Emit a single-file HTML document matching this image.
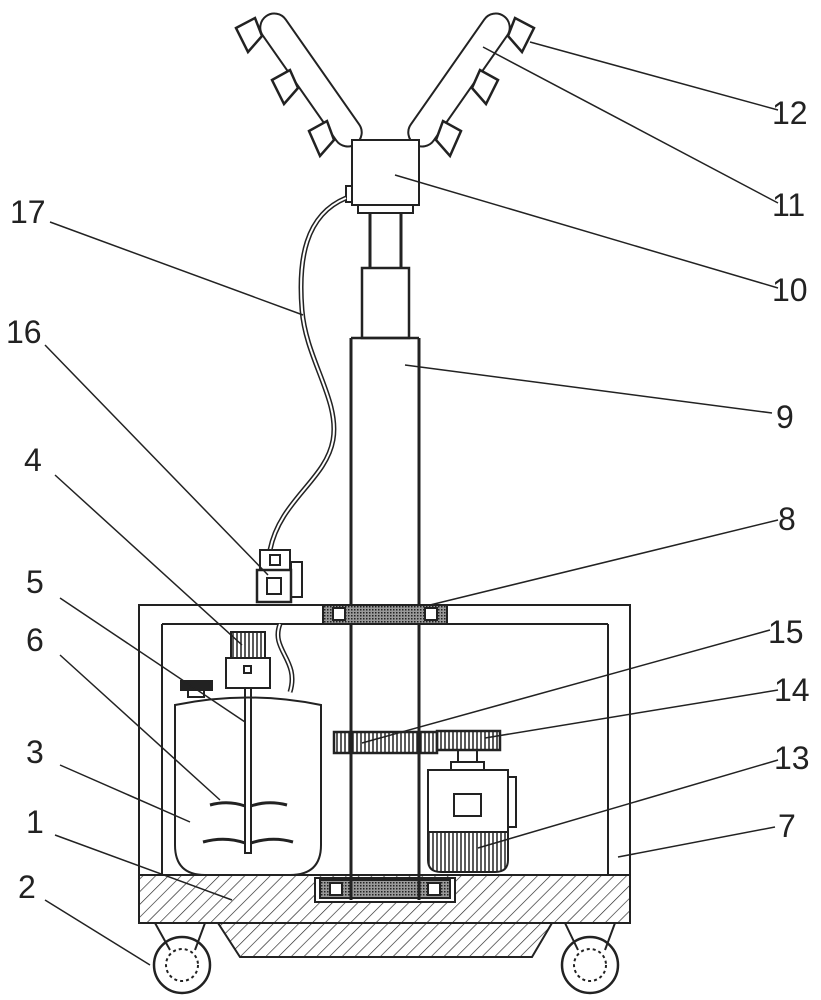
<!DOCTYPE html>
<html><head><meta charset="utf-8"><style>
html,body{margin:0;padding:0;background:#fff;}
svg{display:block;}
text{font-family:"Liberation Sans",sans-serif;font-size:32px;fill:#222;}
</style></head><body>
<svg width="821" height="1000" viewBox="0 0 821 1000" xmlns="http://www.w3.org/2000/svg">
<defs>
<pattern id="h" width="9" height="9" patternUnits="userSpaceOnUse" patternTransform="rotate(45)">
<line x1="0" y1="0" x2="0" y2="9" stroke="#222" stroke-width="1.3"/>
</pattern>
<pattern id="d" width="3" height="3" patternUnits="userSpaceOnUse">
<rect width="3" height="3" fill="#999"/><rect width="1.5" height="1.5" fill="#222"/>
</pattern>
<pattern id="v" width="4" height="10" patternUnits="userSpaceOnUse">
<line x1="1" y1="0" x2="1" y2="10" stroke="#222" stroke-width="1.5"/>
</pattern>
</defs>
<g fill="none" stroke="#222" stroke-width="2">
<!-- arms -->
<g transform="translate(311,80) rotate(-35)"><rect x="-14" y="-78" width="28" height="156" rx="14" fill="#fff"/></g>
<g transform="translate(459,80) rotate(35)"><rect x="-14" y="-78" width="28" height="156" rx="14" fill="#fff"/></g>
<!-- nozzles left -->
<g fill="#fff" stroke-width="2.5">
<polygon points="236,28 255,18 262,36 248,52"/>
<polygon points="272,80 290,70 298,88 284,104"/>
<polygon points="309,131 327,121 334,140 320,156"/>
<polygon points="534,28 515,18 508,36 522,52"/>
<polygon points="498,80 480,70 472,88 486,104"/>
<polygon points="461,131 443,121 436,140 450,156"/>
</g>
<!-- head -->
<rect x="352" y="140" width="67" height="65" fill="#fff"/>
<rect x="346" y="186" width="6" height="16"/>
<rect x="358" y="205" width="55" height="8"/>
<line x1="370" y1="213" x2="370" y2="268" stroke-width="3"/>
<line x1="401" y1="213" x2="401" y2="268" stroke-width="3"/>
<rect x="362" y="268" width="47" height="70" stroke-width="2.5"/>
<line x1="351" y1="338" x2="351" y2="880" stroke-width="3"/>
<line x1="419" y1="338" x2="419" y2="880" stroke-width="3"/>
<line x1="351" y1="338" x2="419" y2="338" stroke-width="2.5"/>
<!-- hose 17 -->
<path d="M346,198 C305,215 298,260 302,310 C306,360 340,400 333,440 C326,480 280,500 270,550" stroke-width="5"/>
<path d="M346,198 C305,215 298,260 302,310 C306,360 340,400 333,440 C326,480 280,500 270,550" stroke="#fff" stroke-width="2"/>
<!-- pump 16 -->
<rect x="260" y="550" width="30" height="20" fill="#fff"/>
<rect x="270" y="555" width="10" height="10"/>
<rect x="257" y="570" width="34" height="32" fill="#fff" stroke-width="2.5"/>
<rect x="267" y="578" width="14" height="16"/>
<rect x="291" y="562" width="11" height="35"/>
<!-- frame -->
<rect x="139" y="605" width="491" height="270"/>
<line x1="162" y1="624" x2="162" y2="875"/>
<line x1="608" y1="624" x2="608" y2="875"/>
<line x1="162" y1="624" x2="608" y2="624"/>
<rect x="323" y="605" width="124" height="19" fill="url(#d)"/>
<rect x="333" y="608" width="12" height="12" fill="#fff"/>
<rect x="425" y="608" width="12" height="12" fill="#fff"/>
<!-- base -->
<rect x="139" y="875" width="491" height="48" fill="url(#h)"/>
<polygon points="218,923 552,923 532,957 240,957" fill="url(#h)"/>
<rect x="315" y="878" width="140" height="24" fill="#fff"/>
<rect x="320" y="880" width="130" height="18" fill="url(#d)"/>
<rect x="330" y="883" width="12" height="12" fill="#fff"/>
<rect x="428" y="883" width="12" height="12" fill="#fff"/>
<line x1="351" y1="875" x2="351" y2="900" stroke-width="3"/>
<line x1="419" y1="875" x2="419" y2="900" stroke-width="3"/>
<!-- wheels -->
<path d="M155,923 L170,950 M205,923 L195,950"/>
<circle cx="182" cy="965" r="28" stroke-width="2.5"/>
<circle cx="182" cy="965" r="16" stroke-dasharray="3 3"/>
<path d="M565,923 L578,950 M615,923 L605,950"/>
<circle cx="590" cy="965" r="28" stroke-width="2.5"/>
<circle cx="590" cy="965" r="16" stroke-dasharray="3 3"/>
<!-- tank -->
<path d="M175,705 Q248,690 321,705 L321,845 Q321,875 290,875 L205,875 Q175,875 175,845 Z" fill="#fff"/>
<rect x="181" y="681" width="31" height="9" fill="#222"/>
<rect x="188" y="690" width="16" height="7"/>
<path d="M280,624 C270,650 300,660 290,692" stroke-width="5"/>
<path d="M280,624 C270,650 300,660 290,692" stroke="#fff" stroke-width="2"/>
<!-- agitator -->
<rect x="231" y="632" width="34" height="26" fill="url(#v)"/>
<rect x="226" y="658" width="44" height="30" fill="#fff"/>
<rect x="244" y="666" width="7" height="7"/>
<rect x="245" y="688" width="6" height="165"/>
<path d="M210,805 Q228,800 245,806 M251,806 Q268,800 287,805" stroke-width="3"/>
<path d="M203,842 Q225,836 245,843 M251,843 Q272,836 293,842" stroke-width="3"/>
<!-- gears -->
<rect x="334" y="732" width="103" height="21" fill="url(#v)" stroke-width="2.5"/>
<rect x="437" y="731" width="63" height="19" fill="url(#v)" stroke-width="2.5"/>
<!-- motor 13 -->
<rect x="458" y="750" width="19" height="12"/>
<rect x="451" y="762" width="33" height="8"/>
<rect x="428" y="770" width="80" height="62" fill="#fff"/>
<rect x="508" y="777" width="8" height="50"/>
<rect x="454" y="794" width="27" height="22"/>
<path d="M428,832 L508,832 L508,860 Q508,872 495,872 L441,872 Q428,872 428,860 Z" fill="url(#v)"/>
</g>
<!-- leaders -->
<g stroke="#222" stroke-width="1.5">
<line x1="530" y1="42" x2="778" y2="110"/>
<line x1="483" y1="47" x2="778" y2="203"/>
<line x1="395" y1="175" x2="778" y2="288"/>
<line x1="405" y1="365" x2="772" y2="413"/>
<line x1="430" y1="605" x2="778" y2="520"/>
<line x1="362" y1="743" x2="770" y2="630"/>
<line x1="485" y1="738" x2="778" y2="690"/>
<line x1="478" y1="848" x2="778" y2="760"/>
<line x1="618" y1="857" x2="775" y2="827"/>
<line x1="50" y1="222" x2="303" y2="315"/>
<line x1="45" y1="345" x2="268" y2="575"/>
<line x1="55" y1="475" x2="242" y2="645"/>
<line x1="60" y1="598" x2="245" y2="722"/>
<line x1="60" y1="655" x2="220" y2="800"/>
<line x1="60" y1="765" x2="190" y2="822"/>
<line x1="55" y1="835" x2="232" y2="900"/>
<line x1="45" y1="900" x2="150" y2="965"/>
</g>
<g>
<text x="772" y="124">12</text>
<text x="772" y="216">11</text>
<text x="772" y="301">10</text>
<text x="776" y="428">9</text>
<text x="778" y="530">8</text>
<text x="768" y="643">15</text>
<text x="774" y="701">14</text>
<text x="774" y="769">13</text>
<text x="778" y="837">7</text>
<text x="10" y="223">17</text>
<text x="6" y="343">16</text>
<text x="24" y="471">4</text>
<text x="26" y="593">5</text>
<text x="26" y="651">6</text>
<text x="26" y="763">3</text>
<text x="26" y="833">1</text>
<text x="18" y="898">2</text>
</g>
</svg>
</body></html>
